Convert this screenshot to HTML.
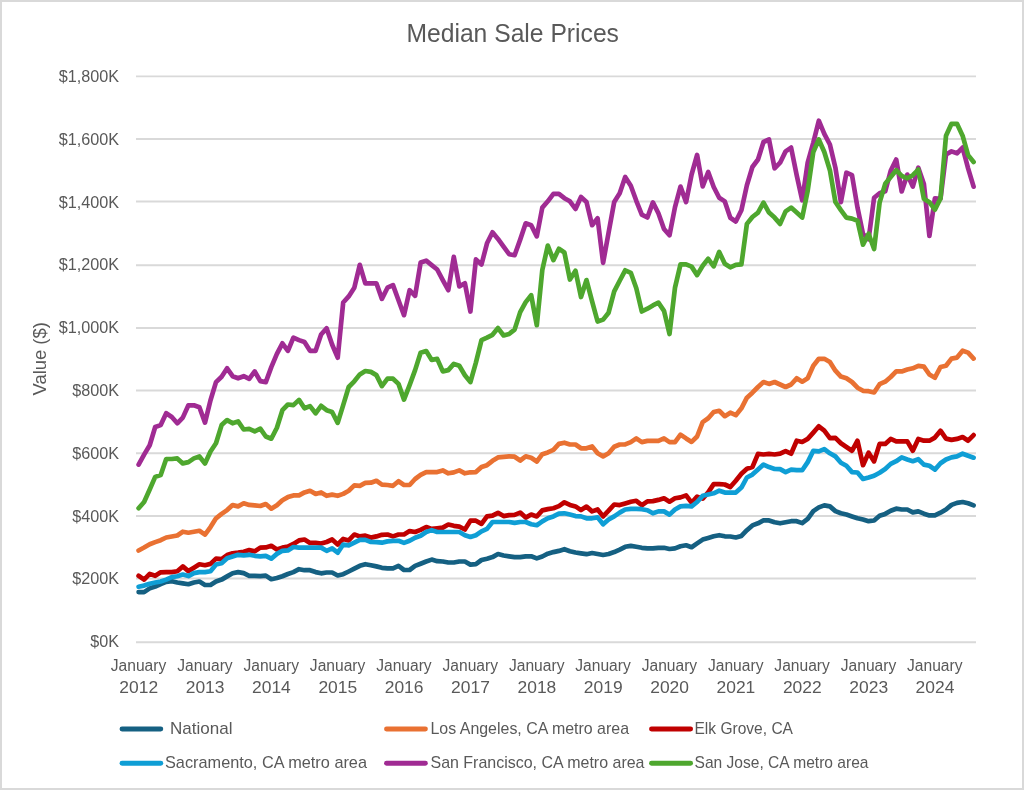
<!DOCTYPE html>
<html><head><meta charset="utf-8"><title>Median Sale Prices</title>
<style>
html,body{margin:0;padding:0;background:#fff;}
body{width:1024px;height:790px;overflow:hidden;font-family:"Liberation Sans",sans-serif;}
.frame{position:absolute;left:0;top:0;width:1020px;height:786px;border:2px solid #d9d9d9;background:#fff;}
svg{position:absolute;left:0;top:0;will-change:transform;}
svg text{font-family:"Liberation Sans",sans-serif;fill:#595959;}
.grid line{stroke:#d9d9d9;stroke-width:1.9;}
.series polyline{fill:none;stroke-width:4.7;stroke-linecap:round;stroke-linejoin:round;}
.yl text,.xl text,.lg text{font-size:16.2px;}
</style></head>
<body>
<div class="frame"></div>
<svg width="1024" height="790" viewBox="0 0 1024 790">
<text x="512.7" y="41.7" text-anchor="middle" font-size="25" textLength="212.5" lengthAdjust="spacingAndGlyphs">Median Sale Prices</text>
<g class="grid">
<line x1="136" x2="976" y1="642.25" y2="642.25"/>
<line x1="136" x2="976" y1="578.50" y2="578.50"/>
<line x1="136" x2="976" y1="515.95" y2="515.95"/>
<line x1="136" x2="976" y1="453.25" y2="453.25"/>
<line x1="136" x2="976" y1="390.50" y2="390.50"/>
<line x1="136" x2="976" y1="327.95" y2="327.95"/>
<line x1="136" x2="976" y1="265.30" y2="265.30"/>
<line x1="136" x2="976" y1="201.50" y2="201.50"/>
<line x1="136" x2="976" y1="139.00" y2="139.00"/>
<line x1="136" x2="976" y1="76.35" y2="76.35"/>
</g>
<g class="yl">
<text x="119" y="646.8" text-anchor="end">$0K</text>
<text x="119" y="584.2" text-anchor="end">$200K</text>
<text x="119" y="521.8" text-anchor="end">$400K</text>
<text x="119" y="459.1" text-anchor="end">$600K</text>
<text x="119" y="395.9" text-anchor="end">$800K</text>
<text x="119" y="332.6" text-anchor="end">$1,000K</text>
<text x="119" y="270.0" text-anchor="end">$1,200K</text>
<text x="119" y="207.6" text-anchor="end">$1,400K</text>
<text x="119" y="145.0" text-anchor="end">$1,600K</text>
<text x="119" y="81.9" text-anchor="end">$1,800K</text>
</g>
<text class="yt" font-size="18.4" text-anchor="middle" transform="translate(46.4,358.8) rotate(-90)">Value ($)</text>
<g class="xl">
<text x="138.5" y="670.6" text-anchor="middle" style="font-size:15.6px">January</text><text x="138.7" y="692.5" text-anchor="middle" textLength="38.8" lengthAdjust="spacingAndGlyphs">2012</text>
<text x="204.9" y="670.6" text-anchor="middle" style="font-size:15.6px">January</text><text x="205.1" y="692.5" text-anchor="middle" textLength="38.8" lengthAdjust="spacingAndGlyphs">2013</text>
<text x="271.2" y="670.6" text-anchor="middle" style="font-size:15.6px">January</text><text x="271.4" y="692.5" text-anchor="middle" textLength="38.8" lengthAdjust="spacingAndGlyphs">2014</text>
<text x="337.6" y="670.6" text-anchor="middle" style="font-size:15.6px">January</text><text x="337.8" y="692.5" text-anchor="middle" textLength="38.8" lengthAdjust="spacingAndGlyphs">2015</text>
<text x="403.9" y="670.6" text-anchor="middle" style="font-size:15.6px">January</text><text x="404.1" y="692.5" text-anchor="middle" textLength="38.8" lengthAdjust="spacingAndGlyphs">2016</text>
<text x="470.3" y="670.6" text-anchor="middle" style="font-size:15.6px">January</text><text x="470.5" y="692.5" text-anchor="middle" textLength="38.8" lengthAdjust="spacingAndGlyphs">2017</text>
<text x="536.7" y="670.6" text-anchor="middle" style="font-size:15.6px">January</text><text x="536.9" y="692.5" text-anchor="middle" textLength="38.8" lengthAdjust="spacingAndGlyphs">2018</text>
<text x="603.0" y="670.6" text-anchor="middle" style="font-size:15.6px">January</text><text x="603.2" y="692.5" text-anchor="middle" textLength="38.8" lengthAdjust="spacingAndGlyphs">2019</text>
<text x="669.4" y="670.6" text-anchor="middle" style="font-size:15.6px">January</text><text x="669.6" y="692.5" text-anchor="middle" textLength="38.8" lengthAdjust="spacingAndGlyphs">2020</text>
<text x="735.7" y="670.6" text-anchor="middle" style="font-size:15.6px">January</text><text x="735.9" y="692.5" text-anchor="middle" textLength="38.8" lengthAdjust="spacingAndGlyphs">2021</text>
<text x="802.1" y="670.6" text-anchor="middle" style="font-size:15.6px">January</text><text x="802.3" y="692.5" text-anchor="middle" textLength="38.8" lengthAdjust="spacingAndGlyphs">2022</text>
<text x="868.5" y="670.6" text-anchor="middle" style="font-size:15.6px">January</text><text x="868.7" y="692.5" text-anchor="middle" textLength="38.8" lengthAdjust="spacingAndGlyphs">2023</text>
<text x="934.8" y="670.6" text-anchor="middle" style="font-size:15.6px">January</text><text x="935.0" y="692.5" text-anchor="middle" textLength="38.8" lengthAdjust="spacingAndGlyphs">2024</text>
</g>
<g class="series">
<polyline points="138.6,592.1 144.1,592.1 149.7,588.4 155.2,586.5 160.7,584.0 166.2,581.8 171.8,581.2 177.3,582.5 182.8,583.3 188.4,584.2 193.9,582.5 199.4,581.5 205.0,585.0 210.5,585.0 216.0,581.5 221.6,579.6 227.1,576.4 232.6,573.3 238.1,572.1 243.7,573.1 249.2,575.8 254.7,575.8 260.3,576.2 265.8,575.6 271.3,579.2 276.9,578.0 282.4,576.2 287.9,574.0 293.4,572.1 299.0,569.2 304.5,570.2 310.0,570.2 315.6,572.1 321.1,573.3 326.6,572.5 332.1,572.5 337.7,575.5 343.2,574.2 348.7,571.5 354.3,568.7 359.8,565.8 365.3,564.2 370.9,565.2 376.4,566.4 381.9,567.8 387.5,568.4 393.0,568.4 398.5,565.9 404.0,570.0 409.6,570.0 415.1,565.9 420.6,563.7 426.2,561.5 431.7,559.6 437.2,561.2 442.8,561.5 448.3,562.5 453.8,562.5 459.3,561.5 464.9,561.5 470.4,564.6 475.9,564.2 481.5,560.0 487.0,558.7 492.5,557.1 498.0,554.0 503.6,555.5 509.1,556.3 514.6,557.1 520.2,557.1 525.7,556.3 531.2,556.3 536.8,558.4 542.3,556.5 547.8,553.7 553.4,552.1 558.9,550.9 564.4,549.2 569.9,551.2 575.5,552.5 581.0,553.4 586.5,554.2 592.1,553.0 597.6,554.0 603.1,555.0 608.6,554.0 614.2,552.1 619.7,549.6 625.2,546.8 630.8,545.9 636.3,546.8 641.8,547.8 647.4,548.4 652.9,548.4 658.4,547.8 664.0,547.8 669.5,549.0 675.0,548.4 680.5,546.3 686.1,545.3 691.6,547.2 697.1,543.4 702.7,539.6 708.2,538.0 713.7,536.3 719.2,535.2 724.8,536.3 730.3,536.5 735.8,537.5 741.4,535.9 746.9,530.2 752.4,525.4 758.0,523.3 763.5,520.4 769.0,520.4 774.6,522.3 780.1,523.3 785.6,522.3 791.1,521.2 796.7,521.2 802.2,523.1 807.7,518.9 813.3,511.1 818.8,507.4 824.3,505.4 829.9,506.4 835.4,511.1 840.9,513.3 846.4,514.5 852.0,516.4 857.5,518.3 863.0,519.5 868.6,521.2 874.1,520.5 879.6,515.8 885.2,513.9 890.7,510.8 896.2,508.7 901.7,509.5 907.3,509.5 912.8,512.4 918.3,511.4 923.9,513.7 929.4,515.4 934.9,515.4 940.5,512.7 946.0,509.5 951.5,504.9 957.0,502.9 962.6,502.0 968.1,503.3 973.6,505.4" stroke="#156082"/>
<polyline points="138.6,550.5 144.1,547.5 149.7,544.2 155.2,542.1 160.7,540.2 166.2,537.5 171.8,536.5 177.3,535.5 182.8,531.7 188.4,532.7 193.9,531.8 199.4,530.8 205.0,534.6 210.5,527.1 216.0,518.3 221.6,513.9 227.1,510.1 232.6,505.1 238.1,506.4 243.7,503.3 249.2,504.9 254.7,505.4 260.3,506.0 265.8,504.0 271.3,508.7 276.9,505.2 282.4,500.2 287.9,497.1 293.4,495.4 299.0,495.4 304.5,492.4 310.0,490.8 315.6,493.9 321.1,492.4 326.6,495.8 332.1,494.6 337.7,495.8 343.2,493.9 348.7,490.8 354.3,485.4 359.8,485.8 365.3,482.9 370.9,482.7 376.4,480.8 381.9,484.6 387.5,485.0 393.0,485.8 398.5,481.2 404.0,485.0 409.6,485.0 415.1,479.0 420.6,474.9 426.2,472.1 431.7,472.1 437.2,472.1 442.8,470.4 448.3,473.3 453.8,472.4 459.3,470.4 464.9,473.3 470.4,472.3 475.9,472.1 481.5,467.0 487.0,465.2 492.5,460.8 498.0,457.4 503.6,456.8 509.1,456.4 514.6,456.7 520.2,460.5 525.7,456.4 531.2,457.7 536.8,461.5 542.3,454.2 547.8,452.4 553.4,449.9 558.9,443.9 564.4,442.7 569.9,444.5 575.5,444.5 581.0,448.3 586.5,448.3 592.1,446.4 597.6,453.3 603.1,456.4 608.6,453.3 614.2,446.7 619.7,444.5 625.2,444.4 630.8,442.1 636.3,438.4 641.8,442.1 647.4,440.9 652.9,440.9 658.4,440.9 664.0,438.4 669.5,442.1 675.0,442.1 680.5,434.6 686.1,438.4 691.6,441.9 697.1,436.5 702.7,422.1 708.2,418.3 713.7,412.0 719.2,410.8 724.8,416.2 730.3,412.7 735.8,415.2 741.4,408.3 746.9,397.7 752.4,392.7 758.0,387.0 763.5,382.0 769.0,383.9 774.6,382.0 780.1,384.5 785.6,387.0 791.1,384.5 796.7,378.3 802.2,381.7 807.7,378.3 813.3,365.7 818.8,358.8 824.3,358.8 829.9,362.0 835.4,370.7 840.9,376.6 846.4,378.3 852.0,382.0 857.5,387.7 863.0,390.8 868.6,391.2 874.1,392.5 879.6,384.2 885.2,381.7 890.7,377.0 896.2,371.4 901.7,371.4 907.3,369.5 912.8,368.3 918.3,365.8 923.9,366.6 929.4,374.5 934.9,377.7 940.5,367.0 946.0,365.8 951.5,358.6 957.0,357.6 962.6,350.7 968.1,352.6 973.6,358.6" stroke="#E97132"/>
<polyline points="138.6,575.8 144.1,579.6 149.7,573.9 155.2,575.8 160.7,572.3 166.2,572.1 171.8,572.1 177.3,571.2 182.8,566.4 188.4,571.1 193.9,567.7 199.4,564.3 205.0,565.2 210.5,563.9 216.0,558.6 221.6,559.1 227.1,555.1 232.6,553.3 238.1,552.6 243.7,551.7 249.2,550.1 254.7,551.4 260.3,547.6 265.8,547.4 271.3,545.8 276.9,549.5 282.4,547.6 287.9,546.6 293.4,543.9 299.0,540.4 304.5,539.5 310.0,542.9 315.6,542.9 321.1,543.6 326.6,542.0 332.1,539.5 337.7,544.5 343.2,538.9 348.7,540.4 354.3,534.5 359.8,536.4 365.3,535.7 370.9,537.6 376.4,536.4 381.9,534.8 387.5,534.5 393.0,536.4 398.5,534.5 404.0,534.5 409.6,531.1 415.1,532.0 420.6,529.9 426.2,527.0 431.7,528.9 437.2,528.3 442.8,527.6 448.3,524.5 453.8,525.8 459.3,526.6 464.9,529.5 470.4,520.7 475.9,520.7 481.5,523.9 487.0,516.4 492.5,515.7 498.0,512.8 503.6,516.1 509.1,515.1 514.6,514.9 520.2,512.6 525.7,517.6 531.2,514.5 536.8,516.4 542.3,510.4 547.8,509.1 553.4,508.2 558.9,506.1 564.4,502.3 569.9,504.9 575.5,506.4 581.0,510.1 586.5,506.6 592.1,511.4 597.6,509.5 603.1,516.4 608.6,510.7 614.2,504.5 619.7,505.1 625.2,503.4 630.8,501.7 636.3,500.8 641.8,505.2 647.4,501.4 652.9,501.1 658.4,499.9 664.0,498.3 669.5,501.7 675.0,498.3 680.5,497.4 686.1,495.4 691.6,502.7 697.1,496.6 702.7,498.6 708.2,492.4 713.7,484.1 719.2,484.1 724.8,484.5 730.3,487.0 735.8,480.7 741.4,473.8 746.9,468.7 752.4,467.1 758.0,453.9 763.5,454.5 769.0,453.9 774.6,454.5 780.1,453.7 785.6,451.1 791.1,453.7 796.7,440.7 802.2,442.0 807.7,438.9 813.3,432.6 818.8,426.3 824.3,430.7 829.9,438.2 835.4,437.9 840.9,443.3 846.4,447.0 852.0,450.8 857.5,440.7 863.0,465.2 868.6,452.7 874.1,461.4 879.6,443.9 885.2,443.9 890.7,438.9 896.2,441.4 901.7,441.4 907.3,441.4 912.8,450.8 918.3,438.9 923.9,440.7 929.4,440.7 934.9,437.6 940.5,430.7 946.0,438.6 951.5,439.9 957.0,438.9 962.6,437.0 968.1,440.7 973.6,435.1" stroke="#C00000"/>
<polyline points="138.6,586.7 144.1,585.6 149.7,583.7 155.2,582.5 160.7,581.5 166.2,579.6 171.8,577.1 177.3,576.2 182.8,574.6 188.4,576.1 193.9,573.1 199.4,572.1 205.0,572.1 210.5,571.2 216.0,564.5 221.6,563.3 227.1,558.3 232.6,556.6 238.1,554.8 243.7,555.4 249.2,554.8 254.7,555.8 260.3,556.4 265.8,555.8 271.3,558.7 276.9,553.9 282.4,550.8 287.9,550.4 293.4,547.0 299.0,547.6 304.5,547.6 310.0,547.6 315.6,547.6 321.1,547.6 326.6,550.8 332.1,548.3 337.7,552.7 343.2,544.5 348.7,545.4 354.3,542.6 359.8,539.9 365.3,539.9 370.9,542.0 376.4,542.2 381.9,542.7 387.5,541.4 393.0,540.8 398.5,540.8 404.0,542.9 409.6,540.8 415.1,537.7 420.6,535.8 426.2,532.0 431.7,530.1 437.2,532.0 442.8,532.0 448.3,532.0 453.8,532.0 459.3,532.0 464.9,535.2 470.4,537.0 475.9,535.2 481.5,531.4 487.0,528.9 492.5,522.0 498.0,522.0 503.6,522.0 509.1,522.0 514.6,522.9 520.2,522.0 525.7,522.0 531.2,524.2 536.8,525.2 542.3,521.4 547.8,518.3 553.4,516.4 558.9,513.6 564.4,513.3 569.9,514.5 575.5,516.1 581.0,516.4 586.5,518.3 592.1,518.3 597.6,517.4 603.1,524.3 608.6,519.5 614.2,516.4 619.7,512.6 625.2,509.5 630.8,508.9 636.3,508.9 641.8,509.2 647.4,510.2 652.9,513.3 658.4,511.4 664.0,511.4 669.5,514.6 675.0,509.5 680.5,506.4 686.1,505.8 691.6,506.4 697.1,502.0 702.7,495.8 708.2,494.5 713.7,493.3 719.2,490.7 724.8,492.6 730.3,492.6 735.8,492.6 741.4,487.6 746.9,477.5 752.4,474.6 758.0,469.6 763.5,464.6 769.0,467.1 774.6,469.0 780.1,469.2 785.6,472.1 791.1,469.6 796.7,470.2 802.2,470.2 807.7,462.1 813.3,450.8 818.8,451.4 824.3,449.1 829.9,453.3 835.4,456.4 840.9,462.7 846.4,465.8 852.0,472.1 857.5,472.5 863.0,479.0 868.6,477.5 874.1,475.8 879.6,472.7 885.2,469.0 890.7,463.9 896.2,461.2 901.7,457.4 907.3,459.5 912.8,461.2 918.3,459.2 923.9,464.6 929.4,465.8 934.9,469.6 940.5,463.3 946.0,459.5 951.5,457.4 957.0,456.4 962.6,453.7 968.1,455.8 973.6,457.7" stroke="#0F9ED5"/>
<polyline points="138.6,464.6 144.1,454.6 149.7,445.2 155.2,427.0 160.7,425.1 166.2,413.2 171.8,417.0 177.3,423.3 182.8,417.6 188.4,405.3 193.9,405.3 199.4,407.3 205.0,422.6 210.5,400.2 216.0,382.1 221.6,376.7 227.1,368.3 232.6,376.2 238.1,378.3 243.7,376.2 249.2,378.9 254.7,371.4 260.3,381.1 265.8,382.1 271.3,367.1 276.9,353.9 282.4,343.3 287.9,350.8 293.4,337.6 299.0,340.1 304.5,342.0 310.0,350.8 315.6,350.8 321.1,334.5 326.6,328.2 332.1,344.5 337.7,357.7 343.2,302.5 348.7,296.4 354.3,287.7 359.8,264.9 365.3,283.3 370.9,283.3 376.4,283.3 381.9,298.9 387.5,287.7 393.0,285.1 398.5,300.2 404.0,315.2 409.6,290.2 415.1,295.8 420.6,262.6 426.2,260.7 431.7,265.1 437.2,269.5 442.8,280.1 448.3,290.2 453.8,256.9 459.3,286.4 464.9,283.3 470.4,311.5 475.9,259.4 481.5,264.5 487.0,243.3 492.5,232.3 498.0,238.9 503.6,246.7 509.1,254.2 514.6,255.2 520.2,239.6 525.7,223.3 531.2,225.2 536.8,236.4 542.3,207.6 547.8,201.3 553.4,193.8 558.9,193.8 564.4,198.2 569.9,201.3 575.5,208.9 581.0,197.0 586.5,202.0 592.1,225.2 597.6,218.3 603.1,262.8 608.6,232.7 614.2,202.0 619.7,193.2 625.2,177.0 630.8,185.8 636.3,200.8 641.8,214.6 647.4,217.5 652.9,202.4 658.4,213.3 664.0,229.0 669.5,235.3 675.0,207.1 680.5,186.6 686.1,202.1 691.6,174.5 697.1,155.0 702.7,186.4 708.2,172.0 713.7,187.0 719.2,197.7 724.8,201.4 730.3,217.7 735.8,221.5 741.4,210.2 746.9,185.2 752.4,167.0 758.0,159.5 763.5,142.0 769.0,139.5 774.6,168.3 780.1,162.7 785.6,151.4 791.1,147.6 796.7,175.2 802.2,200.3 807.7,162.7 813.3,142.6 818.8,120.7 824.3,133.8 829.9,144.5 835.4,167.7 840.9,202.1 846.4,172.7 852.0,175.2 857.5,207.6 863.0,233.9 868.6,239.2 874.1,197.8 879.6,193.2 885.2,191.3 890.7,170.8 896.2,159.5 901.7,191.5 907.3,174.6 912.8,186.5 918.3,167.7 923.9,184.0 929.4,235.9 934.9,198.4 940.5,198.8 946.0,154.5 951.5,151.4 957.0,153.3 962.6,147.6 968.1,168.3 973.6,186.7" stroke="#A02B93"/>
<polyline points="138.6,508.3 144.1,502.0 149.7,489.5 155.2,476.9 160.7,475.0 166.2,459.0 171.8,459.0 177.3,458.4 182.8,463.4 188.4,462.1 193.9,458.4 199.4,456.5 205.0,463.4 210.5,451.5 216.0,443.3 221.6,425.1 227.1,420.1 232.6,423.3 238.1,421.4 243.7,429.5 249.2,428.9 254.7,431.4 260.3,428.7 265.8,436.5 271.3,438.7 276.9,427.7 282.4,410.2 287.9,404.5 293.4,405.1 299.0,399.9 304.5,408.3 310.0,406.1 315.6,413.3 321.1,405.8 326.6,410.2 332.1,412.0 337.7,422.9 343.2,405.1 348.7,387.0 354.3,381.3 359.8,374.4 365.3,371.0 370.9,371.9 376.4,375.1 381.9,386.1 387.5,378.7 393.0,378.7 398.5,383.9 404.0,399.6 409.6,385.2 415.1,370.1 420.6,352.8 426.2,351.1 431.7,359.9 437.2,358.9 442.8,371.4 448.3,370.1 453.8,363.9 459.3,365.8 464.9,375.2 470.4,382.1 475.9,362.6 481.5,340.1 487.0,337.6 492.5,334.8 498.0,328.1 503.6,335.5 509.1,334.0 514.6,329.6 520.2,312.1 525.7,302.1 531.2,295.2 536.8,325.2 542.3,270.1 547.8,245.6 553.4,260.1 558.9,248.8 564.4,252.5 569.9,279.5 575.5,270.7 581.0,297.0 586.5,280.1 592.1,301.4 597.6,321.5 603.1,319.6 608.6,312.7 614.2,291.4 619.7,280.7 625.2,270.3 630.8,272.8 636.3,288.3 641.8,311.5 647.4,308.7 652.9,305.4 658.4,302.7 664.0,310.8 669.5,334.0 675.0,287.6 680.5,264.4 686.1,264.4 691.6,266.6 697.1,275.1 702.7,265.7 708.2,258.8 713.7,266.3 719.2,251.9 724.8,263.8 730.3,267.3 735.8,264.8 741.4,264.4 746.9,223.9 752.4,217.0 758.0,212.6 763.5,202.6 769.0,212.6 774.6,217.6 780.1,223.9 785.6,211.4 791.1,207.6 796.7,212.6 802.2,217.6 807.7,190.7 813.3,152.0 818.8,139.5 824.3,152.0 829.9,170.2 835.4,202.0 840.9,210.1 846.4,217.6 852.0,218.6 857.5,220.8 863.0,244.6 868.6,233.7 874.1,249.0 879.6,202.6 885.2,183.8 890.7,177.1 896.2,170.2 901.7,175.8 907.3,178.3 912.8,175.2 918.3,169.6 923.9,198.8 929.4,202.2 934.9,209.7 940.5,198.4 946.0,135.7 951.5,123.8 957.0,123.8 962.6,135.7 968.1,155.1 973.6,162.0" stroke="#4EA72E"/>
</g>
<g class="lg">
<line x1="122.0" x2="160.8" y1="729.0" y2="729.0" stroke="#156082" stroke-width="4.9" stroke-linecap="round"/><text x="170" y="734" textLength="62.5" lengthAdjust="spacingAndGlyphs">National</text>
<line x1="386.5" x2="425.4" y1="729.0" y2="729.0" stroke="#E97132" stroke-width="4.9" stroke-linecap="round"/><text x="430.5" y="734" textLength="198.5" lengthAdjust="spacingAndGlyphs">Los Angeles, CA metro area</text>
<line x1="651.5" x2="690.6" y1="729.0" y2="729.0" stroke="#C00000" stroke-width="4.9" stroke-linecap="round"/><text x="694.5" y="734" textLength="98.5" lengthAdjust="spacingAndGlyphs">Elk Grove, CA</text>
<line x1="122.0" x2="160.8" y1="763.2" y2="763.2" stroke="#0F9ED5" stroke-width="4.9" stroke-linecap="round"/><text x="165" y="768.2" textLength="202" lengthAdjust="spacingAndGlyphs">Sacramento, CA metro area</text>
<line x1="386.5" x2="425.4" y1="763.2" y2="763.2" stroke="#A02B93" stroke-width="4.9" stroke-linecap="round"/><text x="430.5" y="768.2" textLength="214" lengthAdjust="spacingAndGlyphs">San Francisco, CA metro area</text>
<line x1="651.5" x2="690.6" y1="763.2" y2="763.2" stroke="#4EA72E" stroke-width="4.9" stroke-linecap="round"/><text x="694.5" y="768.2" textLength="174" lengthAdjust="spacingAndGlyphs">San Jose, CA metro area</text>
</g>
</svg>
</body></html>
